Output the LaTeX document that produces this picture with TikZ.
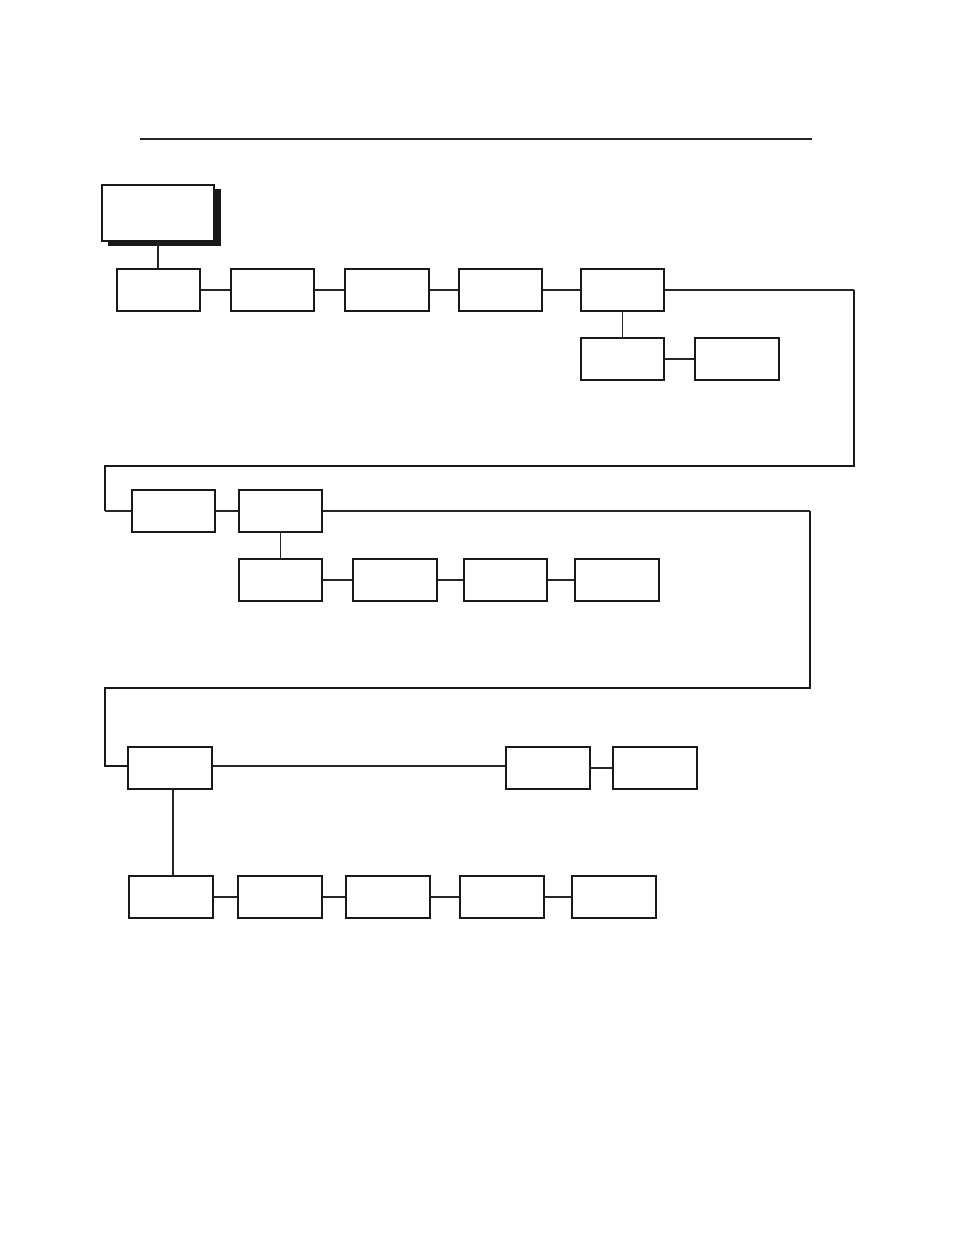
\documentclass[tikz,border=0pt]{standalone}
\begin{document}
\begin{tikzpicture}[x=0.75pt,y=-0.75pt,
  box/.style={draw=black!90,line width=1.4pt,fill=white,minimum width=62.5pt,minimum height=31.5pt,inner sep=0pt},
  conn/.style={draw=black!85,line width=1.1pt},
  loop/.style={draw=black!90,line width=0.9pt}]
\useasboundingbox (0,0) rectangle (954,1235);
\draw[line width=1pt,black!85] (140,139) -- (812,139);
% main box with shadow
\fill[black!90] (108,189) rectangle (220.5,246);
\node[box,minimum width=84pt,minimum height=42pt] (main) at (158,213) {};
% row 1
\node[box] (a1) at (158.5,290) {};
\node[box] (a2) at (272.5,290) {};
\node[box] (a3) at (387,290) {};
\node[box] (a4) at (500.5,290) {};
\node[box] (a5) at (622.5,290) {};
\node[box] (b1) at (622.5,359) {};
\node[box] (b2) at (737,359) {};
% row 2
\node[box] (c1) at (173.5,511) {};
\node[box] (c2) at (280.5,511) {};
\node[box] (d1) at (280.5,580) {};
\node[box] (d2) at (395,580) {};
\node[box] (d3) at (505.5,580) {};
\node[box] (d4) at (617,580) {};
% row 3
\node[box] (e1) at (170,768) {};
\node[box] (e2) at (548,768) {};
\node[box] (e3) at (655,768) {};
% row 4
\node[box] (f1) at (171,897) {};
\node[box] (f2) at (280,897) {};
\node[box] (f3) at (388,897) {};
\node[box] (f4) at (502,897) {};
\node[box] (f5) at (614,897) {};
% connectors
\draw[conn] (main.south) -- (main.south |- a1.north);
\draw[conn] (a1) -- (a2);
\draw[conn] (a2) -- (a3);
\draw[conn] (a3) -- (a4);
\draw[conn] (a4) -- (a5);
\draw[conn] (a5) -- (b1);
\draw[conn] (b1) -- (b2);
\draw[conn] (c1) -- (c2);
\draw[conn] (c2) -- (d1);
\draw[conn] (d1) -- (d2);
\draw[conn] (d2) -- (d3);
\draw[conn] (d3) -- (d4);
\coordinate (h3) at (105,766);
\draw[conn] (e1.east |- h3) -- (e2.west |- h3);
\draw[conn] (e2) -- (e3);
\coordinate (v4) at (173,789);
\draw[conn,line width=1.4pt] (v4) -- (v4 |- f1.north);
\draw[conn] (f1) -- (f2);
\draw[conn] (f2) -- (f3);
\draw[conn] (f3) -- (f4);
\draw[conn] (f4) -- (f5);
% loops
\coordinate (l1a) at (854,290);
\coordinate (l1b) at (854,466);
\coordinate (l1c) at (105,466);
\coordinate (l1d) at (105,511);
\draw[conn] (a5.east) -- (l1a);
\draw[loop] (l1a) -- (l1b) -- (l1c) -- (l1d);
\draw[conn] (l1d) -- (c1.west);
\coordinate (l2a) at (810,511);
\coordinate (l2b) at (810,688);
\coordinate (l2c) at (105,688);
\draw[conn] (c2.east) -- (l2a);
\draw[loop] (l2a) -- (l2b) -- (l2c) -- (h3) -- (h3 -| e1.west);
\end{tikzpicture}
\end{document}
